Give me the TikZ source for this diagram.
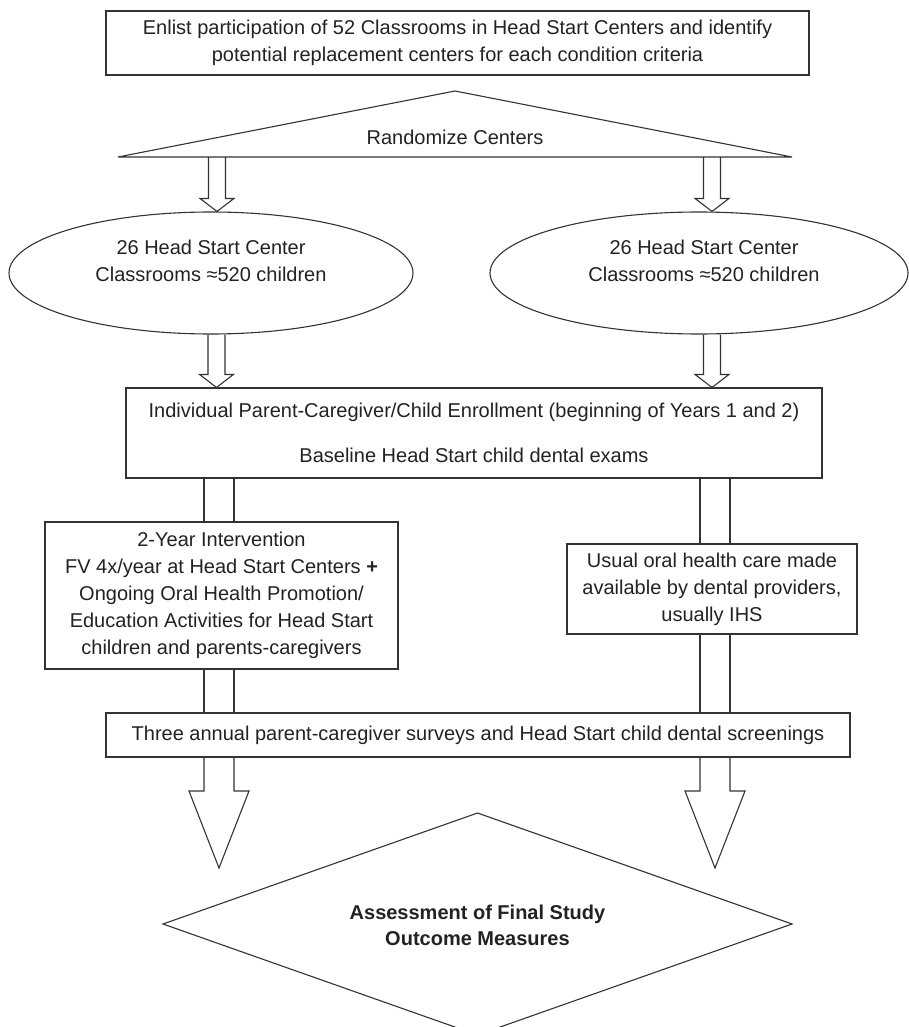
\documentclass[tikz,border=0pt]{standalone}
\usepackage{fontspec}
\setmainfont{Liberation Sans}
\usetikzlibrary{calc,shapes.geometric}
\definecolor{ln}{HTML}{333333}
\definecolor{tx}{HTML}{222222}
\tikzset{
  ink/.style={draw=ln, line width=1.1pt, line join=miter},
  txt/.style={text=tx, font=\fontsize{20}{27}\selectfont, align=center, inner sep=0pt},
  box/.style={ink, rectangle, inner sep=0pt, text=tx, font=\fontsize{20}{27}\selectfont, align=center},
  oval/.style={ink, ellipse, inner sep=0pt}
}
\newcommand\shortarrow[3]{%
  \draw[ink] let \p1=(#2), \p2=(#3) in
    (#1pt-8.5pt,\y1) -- (#1pt-8.5pt,\y2+13pt) -- (#1pt-17pt,\y2+13pt) -- (#1pt,\y2)
    -- (#1pt+17pt,\y2+13pt) -- (#1pt+8.5pt,\y2+13pt) -- (#1pt+8.5pt,\y1);}
\newcommand\shaftpair[3]{%
  \draw[ink] let \p1=(#2), \p2=(#3) in
    (#1pt-15pt,\y1) -- (#1pt-15pt,\y2) (#1pt+15pt,\y1) -- (#1pt+15pt,\y2);}
\newcommand\bigarrow[3]{%
  \draw[ink] let \p1=(#2), \p2=(#3) in
    (#1pt-15pt,\y1) -- (#1pt-15pt,\y2+77pt) -- (#1pt-30pt,\y2+77pt) -- (#1pt,\y2)
    -- (#1pt+30pt,\y2+77pt) -- (#1pt+15pt,\y2+77pt) -- (#1pt+15pt,\y1);}
\begin{document}
\begin{tikzpicture}[x=1pt,y=-1pt]
\useasboundingbox (0,0) rectangle (909,1027);
\clip (0,0) rectangle (909,1027);

% top box
\node[box, minimum width=703, minimum height=64] (top) at (457.5,43)
  {Enlist participation of 52 Classrooms in Head Start Centers and identify\\potential replacement centers for each condition criteria};

% triangle
\coordinate (apex) at (455,91);
\coordinate (triL) at (118,157);
\coordinate (triR) at (792,157);
\draw[ink] (apex) -- (triR) -- (triL) -- cycle;
\coordinate (tribase) at (455,157);
\node[txt] (rand) at (455,137) {Randomize Centers};

% ellipses
\node[oval, minimum width=404, minimum height=122] (e1) at (211,273) {};
\node[txt] (e1t) at (211,261) {26 Head Start Center\\Classrooms ≈520 children};
\node[oval, minimum width=418, minimum height=122] (e2) at (699,273) {};
\node[txt] (e2t) at (704,261) {26 Head Start Center\\Classrooms ≈520 children};

\shortarrow{217}{tribase}{e1.north}
\shortarrow{712}{tribase}{e2.north}

% enrollment box
\node[box, minimum width=696, minimum height=90] (enr) at (474,433)
  {Individual Parent-Caregiver/Child Enrollment (beginning of Years 1 and 2)\\[18pt]Baseline Head Start child dental exams};

\shortarrow{216.5}{e1.south}{enr.north}
\shortarrow{712}{e2.south}{enr.north}

% intervention box
\node[box, minimum width=353, minimum height=147] (int) at (221.5,595.5)
  {2-Year Intervention\\FV 4x/year at Head Start Centers \textbf{+}\\Ongoing Oral Health Promotion/\\Education Activities for Head Start\\children and parents-caregivers};

% usual care box
\node[box, minimum width=290, minimum height=90] (usu) at (712,589)
  {Usual oral health care made\\available by dental providers,\\usually IHS};

\shaftpair{219}{enr.south}{int.north}
\shaftpair{715}{enr.south}{usu.north}

% survey box
\node[box, minimum width=744, minimum height=44] (sur) at (478,735)
  {Three annual parent-caregiver surveys and Head Start child dental screenings};

\shaftpair{219}{int.south}{sur.north}
\shaftpair{715}{usu.south}{sur.north}

% big arrows
\coordinate (tipL) at (219,868);
\coordinate (tipR) at (715,868);
\bigarrow{219}{sur.south}{tipL}
\bigarrow{715}{sur.south}{tipR}

% diamond
\coordinate (dT) at (477.5,813);
\coordinate (dR) at (792,924);
\coordinate (dB) at (477.5,1035);
\coordinate (dL) at (163,924);
\draw[ink] (dT) -- (dR) -- (dB) -- (dL) -- cycle;
\node[txt, font=\fontsize{20}{26}\selectfont\bfseries] (dia) at (477.5,925)
  {Assessment of Final Study\\Outcome Measures};
\end{tikzpicture}
\end{document}
